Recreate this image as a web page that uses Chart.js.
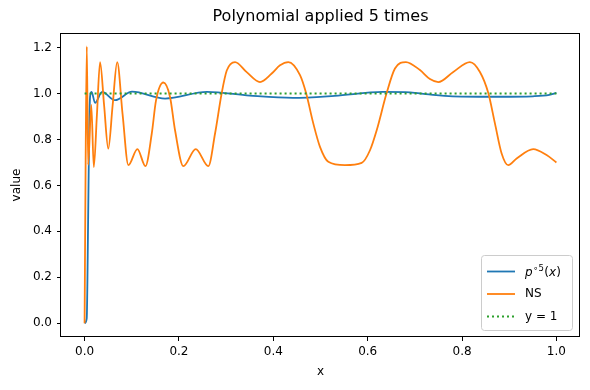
<!DOCTYPE html>
<html><head><meta charset="utf-8">
<script src="https://cdn.jsdelivr.net/npm/chart.js@4.4.1/dist/chart.umd.min.js"></script>
<style>html,body{margin:0;padding:0;background:#fff}canvas{display:block}</style>
</head><body>
<canvas id="c" width="590" height="390"></canvas>
<script>
// ---- data ----
const polyX = [0, 0.0045, 0.0075, 0.0098, 0.0118, 0.0148, 0.0222, 0.0371, 0.0646, 0.1006, 0.1706, 0.2595, 0.35, 0.4417, 0.53, 0.632, 0.69, 0.73, 0.78, 0.88, 0.95, 0.985, 1.0];
const polyY = [0, 0.02, 0.45, 0.85, 0.99, 1.007, 0.959, 1.007, 0.971, 1.008, 0.978, 1.007, 0.991, 0.981, 0.99, 1.007, 1.005, 0.996, 0.988, 0.986, 0.988, 0.994, 1.003];

const nsX = [0, 0.0022, 0.0047, 0.0075, 0.0142, 0.0195, 0.0262, 0.0328, 0.0413, 0.0502, 0.0595, 0.0691, 0.0805, 0.0928, 0.1119, 0.129, 0.1424, 0.1515, 0.1669, 0.1811, 0.1917, 0.2093, 0.2356, 0.2623, 0.2765, 0.2907, 0.3013, 0.3189, 0.3436, 0.3718, 0.3966, 0.4142, 0.4318, 0.4566, 0.4693, 0.4847, 0.4989, 0.5165, 0.5519, 0.5873, 0.6049, 0.6191, 0.6403, 0.6578, 0.6811, 0.7108, 0.7320, 0.7496, 0.7814, 0.8167, 0.8379, 0.8555, 0.8697, 0.8839, 0.8979, 0.9157, 0.9508, 0.9792, 1.0];
const nsY = [0, 0.70, 1.205, 0.69, 0.95, 0.68, 0.91, 1.137, 0.95, 0.76, 0.95, 1.137, 0.91, 0.688, 0.758, 0.684, 0.826, 0.971, 1.048, 0.985, 0.84, 0.684, 0.758, 0.684, 0.826, 1.003, 1.10, 1.137, 1.093, 1.05, 1.087, 1.123, 1.137, 1.08, 1.003, 0.87, 0.768, 0.703, 0.688, 0.698, 0.753, 0.84, 1.003, 1.109, 1.137, 1.102, 1.063, 1.05, 1.094, 1.137, 1.094, 1.003, 0.87, 0.739, 0.688, 0.717, 0.758, 0.732, 0.70];

const refX = [0, 1];
const refY = [1, 1];

const xTicks = [0, 0.2, 0.4, 0.6, 0.8, 1.0];
const yTicks = [0, 0.2, 0.4, 0.6, 0.8, 1.0, 1.2];

const titleText = 'Polynomial applied 5 times';
const xLabel = 'x';
const yLabel = 'value';
const seriesNames = ['p∘5(x)', 'NS', 'y = 1'];

// ---- chart ----
const FONT = "'DejaVu Sans', sans-serif";
Chart.defaults.font.family = FONT;

const toPts = (xs, ys) => xs.map((x, i) => ({x: x, y: ys[i]}));

const decorPlugin = {
  id: 'decor',
  afterDraw(chart) {
    const ctx = chart.ctx;
    const a = chart.chartArea;
    ctx.save();
    // frame
    ctx.strokeStyle = '#000';
    ctx.lineWidth = 1;
    ctx.strokeRect(Math.round(a.left) - 0.5, Math.round(a.top) + 0.5, Math.round(a.right - a.left), Math.round(a.bottom - a.top) - 1);
    // title
    ctx.fillStyle = '#000';
    ctx.textAlign = 'center';
    ctx.textBaseline = 'middle';
    ctx.font = '16px ' + FONT;
    ctx.fillText(titleText, (a.left + a.right) / 2, 17);
    // axis labels
    ctx.font = '12px ' + FONT;
    ctx.fillText(xLabel, (a.left + a.right) / 2, 372);
    ctx.save();
    ctx.translate(17, (a.top + a.bottom) / 2);
    ctx.rotate(-Math.PI / 2);
    ctx.fillText(yLabel, 0, 0);
    ctx.restore();

    // legend
    const bx = 481.5, by = 255.5, bw = 91, bh = 75, r = 3;
    ctx.beginPath();
    ctx.moveTo(bx + r, by);
    ctx.lineTo(bx + bw - r, by);
    ctx.quadraticCurveTo(bx + bw, by, bx + bw, by + r);
    ctx.lineTo(bx + bw, by + bh - r);
    ctx.quadraticCurveTo(bx + bw, by + bh, bx + bw - r, by + bh);
    ctx.lineTo(bx + r, by + bh);
    ctx.quadraticCurveTo(bx, by + bh, bx, by + bh - r);
    ctx.lineTo(bx, by + r);
    ctx.quadraticCurveTo(bx, by, bx + r, by);
    ctx.closePath();
    ctx.fillStyle = 'rgba(255,255,255,0.8)';
    ctx.fill();
    ctx.strokeStyle = '#cccccc';
    ctx.stroke();

    const rows = [271.5, 294, 316.5];
    const ds = chart.data.datasets;
    [0, 1, 2].forEach((k, i) => {
      const d = ds[k];
      ctx.beginPath();
      ctx.strokeStyle = d.borderColor;
      ctx.lineWidth = d.borderWidth;
      ctx.setLineDash(d.borderDash || []);
      ctx.moveTo(487, rows[i]);
      ctx.lineTo(515, rows[i]);
      ctx.stroke();
      ctx.setLineDash([]);
    });
    ctx.fillStyle = '#000';
    ctx.textAlign = 'left';
    ctx.textBaseline = 'alphabetic';
    // math label p∘5(x)
    let x = 525;
    const base = rows[0] + 4.5;
    ctx.font = 'italic 12px ' + FONT;
    ctx.fillText('p', x, base); x += ctx.measureText('p').width + 0.5;
    ctx.font = '8.5px ' + FONT;
    ctx.fillText('∘5', x, base - 5.5); x += ctx.measureText('∘5').width + 0.5;
    ctx.font = '12px ' + FONT;
    ctx.fillText('(', x, base); x += ctx.measureText('(').width;
    ctx.font = 'italic 12px ' + FONT;
    ctx.fillText('x', x, base); x += ctx.measureText('x').width;
    ctx.font = '12px ' + FONT;
    ctx.fillText(')', x, base);
    ctx.textBaseline = 'middle';
    ctx.fillText(seriesNames[1], 525, rows[1]);
    ctx.fillText(seriesNames[2], 525, rows[2]);
    ctx.restore();
  }
};

const axisCommon = {
  type: 'linear',
  grid: {drawOnChartArea: false, drawTicks: true, tickLength: 4, color: '#000', lineWidth: 1},
  border: {display: false},
  ticks: {color: '#000', font: {size: 12}, autoSkip: false, maxRotation: 0, callback: v => Number(v).toFixed(1)}
};

new Chart(document.getElementById('c').getContext('2d'), {
  type: 'line',
  data: {
    datasets: [
      {label: seriesNames[0], data: toPts(polyX, polyY), borderColor: '#1f77b4', borderWidth: 1.8, pointRadius: 0, cubicInterpolationMode: 'monotone', fill: false, order: 2},
      {label: seriesNames[1], data: toPts(nsX, nsY), borderColor: '#ff7f0e', borderWidth: 1.8, pointRadius: 0, cubicInterpolationMode: 'monotone', fill: false, order: 1},
      {label: seriesNames[2], data: toPts(refX, refY), borderColor: '#2ca02c', borderWidth: 1.8, borderDash: [2, 3], pointRadius: 0, tension: 0, fill: false, order: 0}
    ]
  },
  options: {
    responsive: false,
    animation: false,
    devicePixelRatio: 1,
    layout: {padding: {top: 33, right: 10, left: 0, bottom: 0}},
    plugins: {legend: {display: false}, title: {display: false}, tooltip: {enabled: false}},
    scales: {
      x: Object.assign({}, axisCommon, {
        min: -0.05, max: 1.05,
        ticks: Object.assign({}, axisCommon.ticks, {padding: 4}),
        afterBuildTicks: s => { s.ticks = xTicks.map(v => ({value: v})); },
        afterFit: s => { s.height = 53; }
      }),
      y: Object.assign({}, axisCommon, {
        min: -0.06, max: 1.2635,
        ticks: Object.assign({}, axisCommon.ticks, {padding: 5}),
        afterBuildTicks: s => { s.ticks = yTicks.map(v => ({value: v})); },
        afterFit: s => { s.width = 61; }
      })
    }
  },
  plugins: [decorPlugin]
});
</script>
</body></html>
